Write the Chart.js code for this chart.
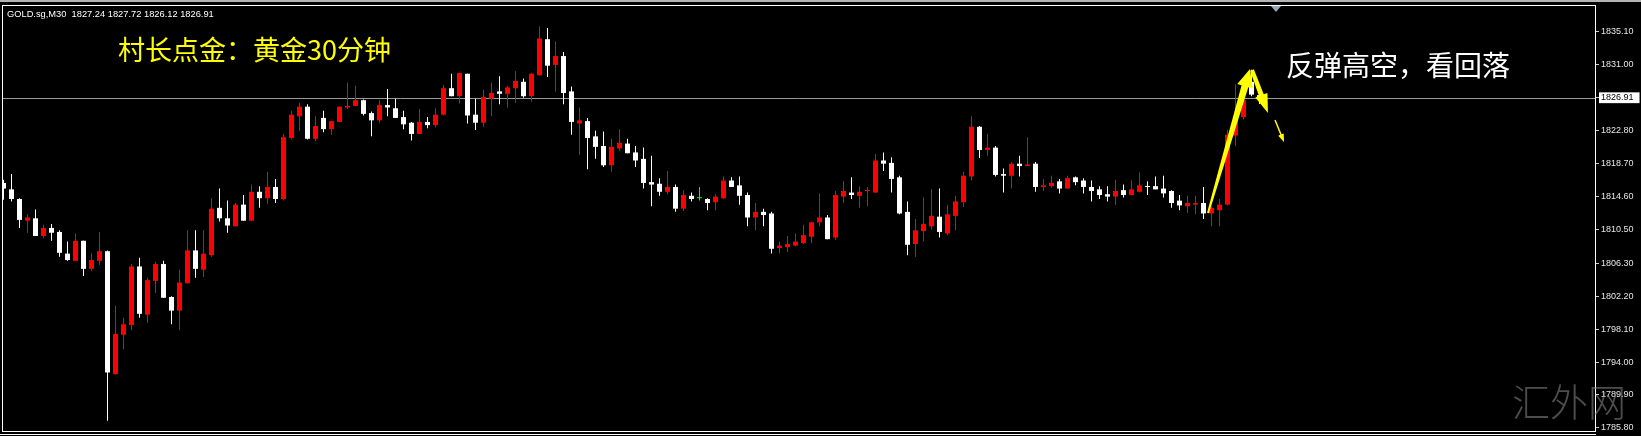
<!DOCTYPE html>
<html lang="zh-CN">
<head>
  <meta charset="UTF-8" />
  <title>村长点金：黄金30分钟</title>
  <script src="https://cdn.jsdelivr.net/npm/chart.js"></script>
  <style>
    body { margin: 0; background: #000; }
    #grafico { display: block; }
  </style>
</head>
<body>
  <canvas id="grafico" width="1641" height="436"></canvas>
  <script>
    const simbolo = 'GOLD.sg,M30';
    const titulo = '村长点金：黄金30分钟';
    const comentario = '反弹高空，看回落';
    const marcaDagua = '汇外网';

    // velas de 30 minutos, da mais antiga para a atual
    const opens = [
      1816.3, 1815.5, 1814.3, 1811.6, 1811.9, 1809.7, 1810.7, 1810.2, 1807.5, 1806.6,
      1809.1, 1805.6, 1806.6, 1807.8, 1792.5, 1797.4, 1798.6, 1805.9, 1799.9, 1804.1,
      1806.2, 1802.1, 1800.4, 1803.8, 1807.9, 1805.5, 1807.3, 1813.2, 1811.9, 1810.9,
      1813.6, 1811.6, 1815.2, 1814.4, 1815.8, 1814.3, 1821.9, 1824.6, 1825.8, 1821.8,
      1824.4, 1823.0, 1823.9, 1825.7, 1825.9, 1826.6, 1825.0, 1824.1, 1826.0, 1825.6,
      1824.5, 1823.8, 1822.4, 1823.9, 1823.5, 1824.8, 1828.1, 1827.1, 1829.9, 1824.8,
      1823.8, 1826.8, 1827.7, 1827.4, 1828.1, 1828.9, 1827.1, 1829.7, 1834.2, 1831.0,
      1832.1, 1827.7, 1823.7, 1824.0, 1822.1, 1820.9, 1818.5, 1820.6, 1821.2, 1820.1,
      1819.3, 1816.4, 1816.2, 1815.2, 1815.8, 1813.1, 1814.7, 1814.4, 1814.3, 1813.9,
      1814.4, 1816.6, 1816.0, 1814.8, 1812.0, 1812.7, 1812.5, 1808.2, 1808.3, 1808.5,
      1808.8, 1809.6, 1811.4, 1812.0, 1809.5, 1814.6, 1815.1, 1814.7, 1815.3, 1815.1,
      1819.1, 1818.8, 1817.0, 1812.7, 1808.7, 1810.3, 1810.9, 1812.1, 1810.0, 1812.2,
      1813.9, 1817.1, 1823.3, 1820.4, 1820.7, 1817.4, 1817.2, 1818.7, 1818.4, 1818.7,
      1815.8, 1815.9, 1816.5, 1815.6, 1817.0, 1816.6, 1815.8, 1815.5, 1814.9, 1814.6,
      1815.4, 1814.8, 1815.2, 1815.9, 1815.9, 1815.6, 1815.3, 1814.1, 1813.4, 1813.6,
      1813.8, 1812.5, 1812.9, 1813.6, 1822.2, 1824.5, 1828.9, 1827.24
    ];
    const highs = [
      1816.7, 1817.4, 1814.4, 1812.4, 1813.0, 1811.1, 1811.2, 1810.4, 1809.0, 1810.0,
      1809.1, 1807.5, 1810.2, 1807.9, 1801.0, 1799.5, 1806.2, 1807.0, 1804.5, 1806.5,
      1806.6, 1802.2, 1805.5, 1810.4, 1810.4, 1810.4, 1814.4, 1815.6, 1814.1, 1813.8,
      1814.8, 1816.1, 1815.9, 1817.7, 1816.8, 1822.4, 1825.3, 1826.3, 1826.1, 1824.6,
      1825.3, 1824.0, 1825.8, 1828.8, 1828.4, 1826.7, 1825.2, 1826.6, 1828.0, 1826.8,
      1825.3, 1823.9, 1825.5, 1824.5, 1825.6, 1828.5, 1829.9, 1830.0, 1829.9, 1826.8,
      1827.9, 1828.8, 1829.6, 1828.4, 1830.2, 1829.3, 1830.0, 1835.8, 1835.6, 1833.9,
      1832.6, 1828.3, 1825.7, 1824.4, 1822.8, 1822.7, 1821.8, 1823.0, 1821.8, 1820.9,
      1820.7, 1819.7, 1816.9, 1817.8, 1816.1, 1815.4, 1815.1, 1815.8, 1814.4, 1814.9,
      1817.1, 1817.0, 1817.1, 1815.1, 1813.8, 1813.1, 1812.7, 1809.0, 1809.7, 1810.0,
      1811.1, 1811.4, 1815.0, 1812.3, 1815.3, 1816.5, 1817.0, 1815.9, 1815.8, 1819.9,
      1820.1, 1819.5, 1817.2, 1814.0, 1811.8, 1814.5, 1815.5, 1815.6, 1813.6, 1814.7,
      1817.7, 1824.6, 1823.4, 1822.4, 1820.9, 1818.1, 1818.9, 1819.7, 1822.0, 1818.9,
      1816.8, 1817.2, 1816.8, 1817.2, 1817.1, 1816.9, 1816.6, 1815.9, 1815.9, 1816.7,
      1816.1, 1816.6, 1817.6, 1816.5, 1817.1, 1817.2, 1815.4, 1814.8, 1814.7, 1814.7,
      1815.8, 1813.4, 1814.3, 1822.9, 1828.6, 1827.3, 1830.4, 1827.72
    ];
    const lows = [
      1814.2, 1814.0, 1810.7, 1810.1, 1809.7, 1809.4, 1809.1, 1807.1, 1806.6, 1806.6,
      1804.7, 1805.3, 1806.1, 1786.7, 1792.4, 1795.6, 1798.0, 1799.5, 1798.9, 1802.6,
      1802.0, 1798.7, 1798.0, 1803.8, 1804.5, 1804.6, 1807.1, 1811.5, 1810.1, 1810.9,
      1811.6, 1811.6, 1813.2, 1813.7, 1813.8, 1814.1, 1821.7, 1822.8, 1821.7, 1821.5,
      1822.6, 1822.3, 1823.9, 1825.5, 1825.9, 1824.7, 1822.1, 1823.8, 1824.6, 1824.4,
      1823.0, 1821.6, 1822.4, 1823.1, 1823.2, 1824.7, 1827.1, 1826.2, 1823.7, 1822.9,
      1823.3, 1824.6, 1826.1, 1825.7, 1826.3, 1826.9, 1826.4, 1829.7, 1829.5, 1827.7,
      1826.1, 1822.3, 1819.8, 1818.0, 1819.3, 1818.3, 1817.7, 1820.3, 1820.0, 1818.3,
      1815.6, 1813.4, 1814.7, 1814.9, 1812.7, 1812.8, 1814.0, 1814.1, 1812.9, 1812.9,
      1814.3, 1815.8, 1813.6, 1810.9, 1810.4, 1810.9, 1807.5, 1807.5, 1807.7, 1808.4,
      1808.7, 1808.8, 1810.9, 1809.3, 1809.2, 1813.8, 1814.3, 1813.2, 1813.4, 1815.1,
      1817.8, 1815.1, 1812.4, 1807.3, 1807.1, 1809.0, 1810.5, 1809.5, 1809.8, 1810.4,
      1813.3, 1816.6, 1819.4, 1819.7, 1817.1, 1815.1, 1815.6, 1817.1, 1818.4, 1815.2,
      1815.3, 1815.7, 1815.0, 1815.6, 1816.0, 1815.0, 1814.0, 1814.3, 1814.0, 1813.6,
      1814.5, 1814.8, 1815.1, 1814.8, 1815.5, 1814.5, 1813.2, 1812.9, 1812.6, 1812.4,
      1811.8, 1810.9, 1810.9, 1813.5, 1820.9, 1824.2, 1827.1, 1826.12
    ];
    const closes = [
      1815.6, 1814.3, 1811.7, 1812.0, 1809.7, 1810.7, 1810.1, 1807.6, 1806.7, 1809.1,
      1805.6, 1806.7, 1807.8, 1792.7, 1797.5, 1798.7, 1805.9, 1800.0, 1804.2, 1806.2,
      1802.0, 1800.4, 1803.9, 1807.9, 1805.6, 1807.5, 1813.1, 1811.9, 1811.0, 1813.6,
      1811.6, 1815.2, 1814.4, 1815.8, 1814.3, 1822.0, 1824.8, 1825.8, 1821.8, 1823.4,
      1823.0, 1824.0, 1825.8, 1825.9, 1826.6, 1824.9, 1824.1, 1826.0, 1825.7, 1824.4,
      1823.6, 1822.4, 1823.9, 1823.5, 1824.8, 1828.1, 1827.1, 1830.0, 1824.7, 1823.8,
      1827.0, 1827.5, 1827.4, 1828.2, 1829.0, 1827.1, 1829.9, 1834.3, 1830.9, 1832.1,
      1827.5, 1823.9, 1824.1, 1821.9, 1820.8, 1818.5, 1820.8, 1821.3, 1820.0, 1819.1,
      1816.3, 1816.1, 1815.2, 1815.8, 1813.1, 1814.8, 1814.3, 1814.4, 1813.8, 1814.6,
      1816.6, 1815.8, 1814.7, 1812.0, 1812.7, 1812.3, 1808.1, 1808.5, 1808.7, 1809.0,
      1809.8, 1811.4, 1812.0, 1809.3, 1814.8, 1815.3, 1814.8, 1815.2, 1815.4, 1819.1,
      1818.7, 1816.8, 1812.5, 1808.6, 1810.4, 1811.2, 1812.2, 1810.2, 1812.4, 1814.0,
      1817.2, 1823.3, 1820.4, 1820.7, 1817.3, 1817.2, 1818.7, 1818.4, 1818.6, 1815.8,
      1816.0, 1816.3, 1815.6, 1816.9, 1816.4, 1815.8, 1815.3, 1814.8, 1814.6, 1815.3,
      1814.8, 1815.5, 1816.0, 1815.8, 1815.5, 1815.0, 1813.8, 1813.5, 1813.8, 1813.8,
      1812.5, 1813.2, 1813.6, 1822.3, 1824.5, 1826.6, 1827.3, 1826.91
    ];
    const priceTicks = [
      1835.10, 1831.00, 1826.91, 1822.80, 1818.70, 1814.60, 1810.50,
      1806.30, 1802.20, 1798.10, 1794.00, 1789.90, 1785.80
    ];
    const lastPrice = 1826.91;
    const shiftIndex = 159;
    const yMin = 1785.41, yMax = 1838.46;
    const xMin = -0.1875, xMax = 198.9375;

    // setas amarelas desenhadas no grafico (indice da vela, preco)
    const setas = [
      { de: [150.56, 1812.56], ate: [155.81, 1830.49], cauda: 2, haste: 7, cabeca: 16, ponta: 18 },
      { de: [156.06, 1830.37], ate: [158.06, 1825.01], cauda: 4, haste: 5, cabeca: 13, ponta: 19 },
      { de: [158.94, 1824.14], ate: [160.06, 1821.40], cauda: 1.5, haste: 1.5, cabeca: 6, ponta: 8 }
    ];

    const corAlta = '#ff0000';
    const corBaixa = '#ffffff';
    const corDoji = '#00ff00';

    const indices = opens.map((_, i) => i);
    const corDe = i => closes[i] > opens[i] ? corAlta : (closes[i] < opens[i] ? corBaixa : corDoji);
    const cores = indices.map(corDe);

    function desenharSeta(ctx, x0, y0, x1, y1, s) {
      const len = Math.hypot(x1 - x0, y1 - y0);
      const dx = (x1 - x0) / len, dy = (y1 - y0) / len;
      const nx = -dy, ny = dx;
      const bx = x1 - dx * s.ponta, by = y1 - dy * s.ponta;
      ctx.beginPath();
      ctx.moveTo(x0 + nx * s.cauda / 2, y0 + ny * s.cauda / 2);
      ctx.lineTo(bx + nx * s.haste / 2, by + ny * s.haste / 2);
      ctx.lineTo(bx + nx * s.cabeca / 2, by + ny * s.cabeca / 2);
      ctx.lineTo(x1, y1);
      ctx.lineTo(bx - nx * s.cabeca / 2, by - ny * s.cabeca / 2);
      ctx.lineTo(bx - nx * s.haste / 2, by - ny * s.haste / 2);
      ctx.lineTo(x0 - nx * s.cauda / 2, y0 - ny * s.cauda / 2);
      ctx.closePath();
      ctx.fill();
    }

    const desenho = {
      id: 'desenho',
      beforeDraw(chart) {
        const ctx = chart.ctx;
        ctx.save();
        ctx.fillStyle = '#000';
        ctx.fillRect(0, 0, chart.width, chart.height);
        ctx.fillStyle = '#b4b4b4';
        ctx.fillRect(0, 0, chart.width, 2);
        ctx.restore();
      },
      beforeDatasetsDraw(chart) {
        const { ctx, chartArea: a, scales: { y } } = chart;
        const py = Math.round(y.getPixelForValue(lastPrice)) + 0.5;
        ctx.save();
        ctx.strokeStyle = '#9a9a9a';
        ctx.lineWidth = 1;
        ctx.beginPath();
        ctx.moveTo(a.left, py);
        ctx.lineTo(a.right, py);
        ctx.stroke();
        ctx.restore();
      },
      afterDatasetsDraw(chart) {
        const { ctx, scales: { x, y } } = chart;
        ctx.save();
        ctx.fillStyle = '#ffff00';
        setas.forEach(s => {
          desenharSeta(ctx,
            x.getPixelForValue(s.de[0]), y.getPixelForValue(s.de[1]),
            x.getPixelForValue(s.ate[0]), y.getPixelForValue(s.ate[1]), s);
        });
        ctx.restore();
      },
      afterDraw(chart) {
        const { ctx, chartArea: a, scales: { x } } = chart;
        ctx.save();
        ctx.strokeStyle = '#ffffff';
        ctx.lineWidth = 1;
        ctx.strokeRect(a.left + 0.5, a.top + 0.5, a.right - a.left, a.bottom - a.top);
        ctx.beginPath();
        ctx.moveTo(0, a.bottom + 3.5);
        ctx.lineTo(a.right + 1, a.bottom + 3.5);
        ctx.stroke();

        // marcador de deslocamento do grafico
        const sx = Math.round(x.getPixelForValue(shiftIndex));
        ctx.fillStyle = '#9aa6b8';
        ctx.beginPath();
        ctx.moveTo(sx - 5, a.top + 1);
        ctx.lineTo(sx + 5, a.top + 1);
        ctx.lineTo(sx, a.top + 7);
        ctx.closePath();
        ctx.fill();

        const n = opens.length - 1;
        const cabecalho = simbolo + '  ' + [opens[n], highs[n], lows[n], closes[n]].map(v => v.toFixed(2)).join(' ');
        ctx.textBaseline = 'middle';
        ctx.fillStyle = '#ffffff';
        ctx.font = '9.3px "Liberation Sans"';
        ctx.fillText(cabecalho, 7, 14);

        ctx.fillStyle = '#ffff00';
        ctx.font = '27px "Noto Sans CJK SC"';
        ctx.fillText(titulo, 118, 50);

        ctx.fillStyle = '#ffffff';
        ctx.font = '28px "Noto Sans CJK SC"';
        ctx.fillText(comentario, 1286, 65);

        ctx.fillStyle = 'rgba(140, 140, 140, 0.55)';
        ctx.font = '300 38px "Noto Sans CJK SC"';
        ctx.fillText(marcaDagua, 1512, 402);
        ctx.restore();
      }
    };

    new Chart(document.getElementById('grafico'), {
      type: 'bar',
      data: {
        datasets: [
          {
            label: 'pavio',
            data: indices.map(i => ({ x: i, y: [lows[i], highs[i]] })),
            backgroundColor: cores,
            barThickness: 1,
            grouped: false,
            inflateAmount: 0,
            order: 2
          },
          {
            label: 'corpo',
            data: indices.map(i => ({ x: i, y: [Math.min(opens[i], closes[i]), Math.max(opens[i], closes[i])] })),
            backgroundColor: cores,
            barThickness: 5,
            minBarLength: 1,
            grouped: false,
            inflateAmount: 0,
            order: 1
          }
        ]
      },
      options: {
        responsive: false,
        devicePixelRatio: 1,
        animation: false,
        layout: { padding: { left: 2, top: 5, right: 0, bottom: 5 } },
        plugins: { legend: { display: false }, tooltip: { enabled: false } },
        scales: {
          x: { type: 'linear', display: false, min: xMin, max: xMax, offset: false },
          y: {
            position: 'right',
            min: yMin,
            max: yMax,
            afterBuildTicks: s => { s.ticks = priceTicks.map(v => ({ value: v })); },
            afterFit: s => { s.width = 46; s.paddingTop = 0; s.paddingBottom = 0; },
            grid: { drawOnChartArea: false, drawTicks: true, tickLength: 4, color: '#d0d0d0' },
            border: { display: false },
            ticks: {
              padding: 2,
              font: { family: 'Liberation Sans', size: 9 },
              color: c => c.tick.value === lastPrice ? '#000000' : '#e6e6e6',
              showLabelBackdrop: c => c.tick.value === lastPrice,
              backdropColor: '#ffffff',
              backdropPadding: { top: 0, bottom: 0, left: 2, right: 6 },
              callback: v => v.toFixed(2)
            }
          }
        }
      },
      plugins: [desenho]
    });
  </script>
</body>
</html>
